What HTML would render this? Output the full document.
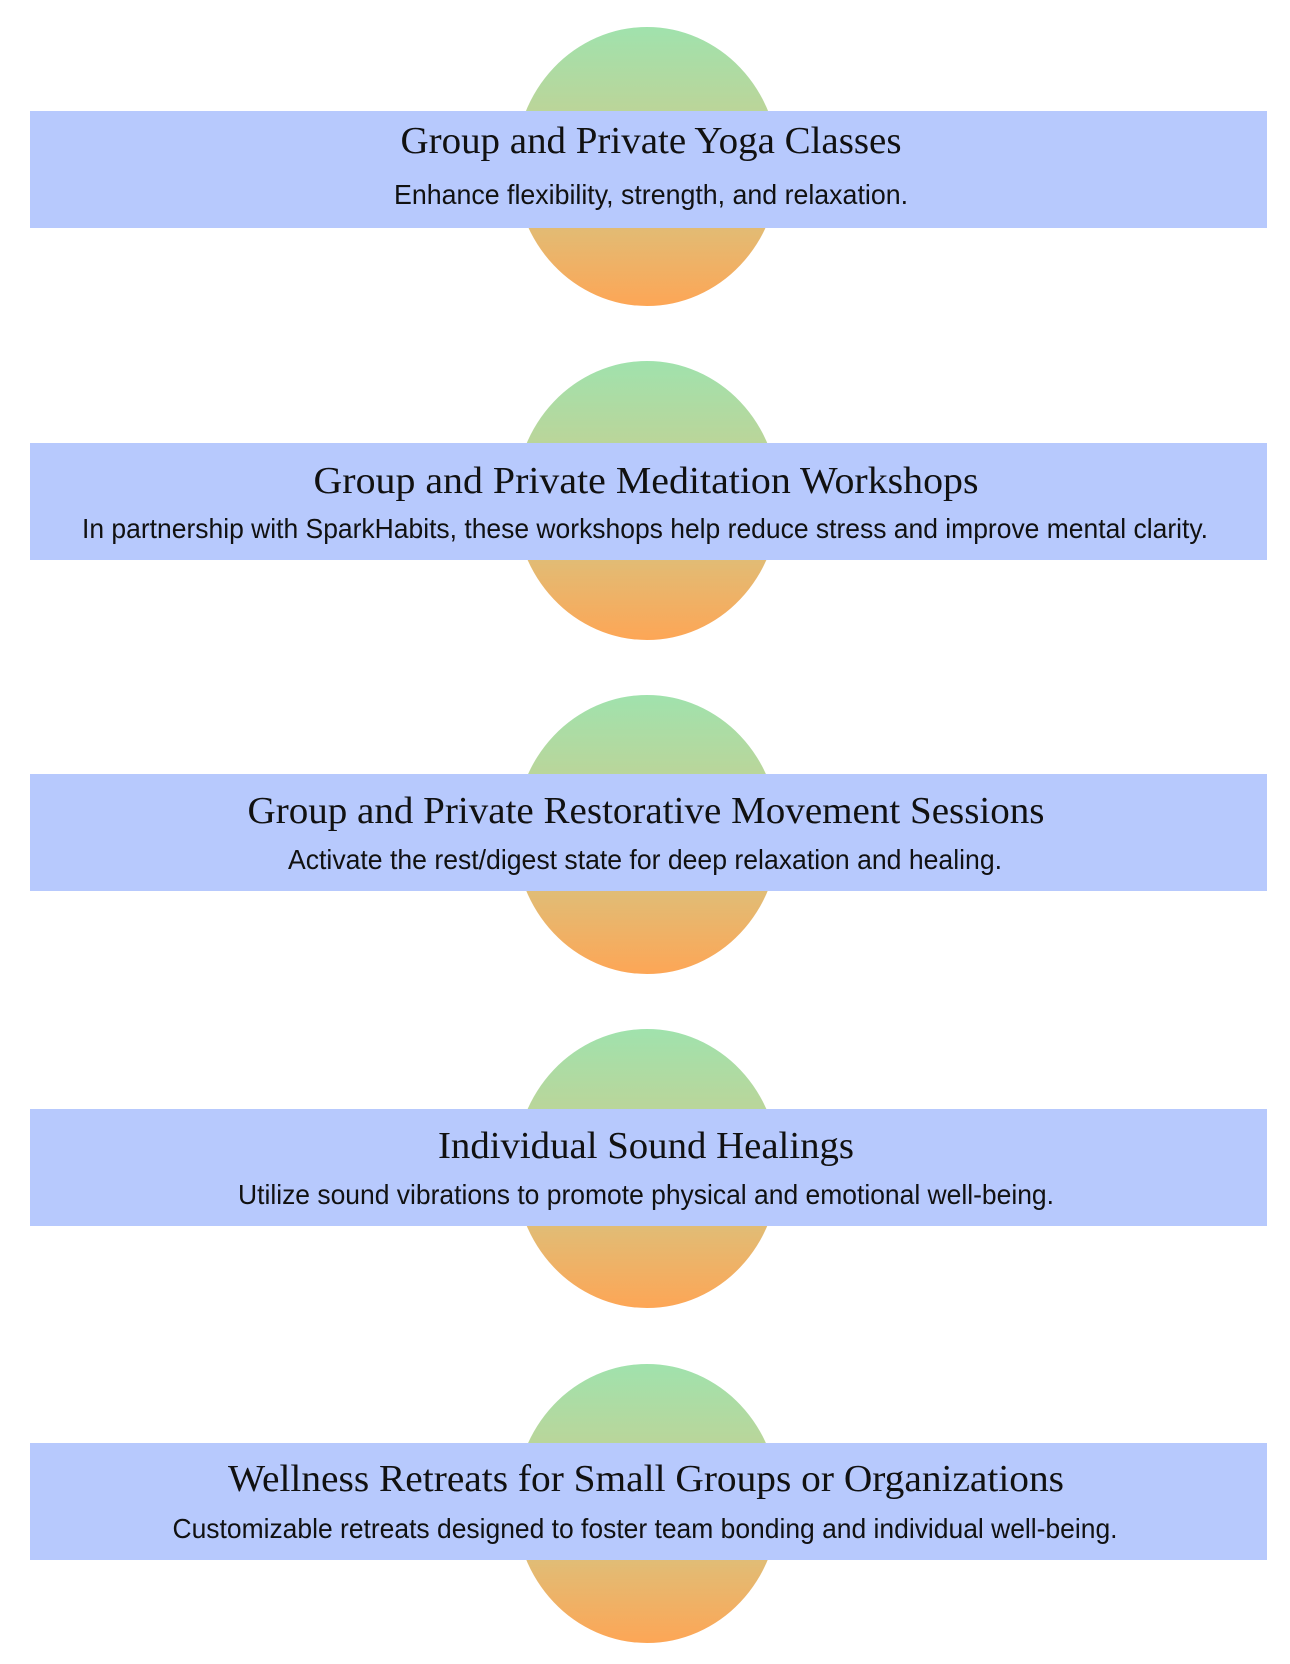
<!DOCTYPE html>
<html><head><meta charset="utf-8"><style>html,body{margin:0;padding:0;background:#fff;}svg{display:block}</style></head>
<body>
<svg width="1290" height="1664" viewBox="0 0 1290 1664" xmlns="http://www.w3.org/2000/svg">
<defs>
<linearGradient id="g" x1="0" y1="0" x2="0" y2="1">
<stop offset="0" stop-color="#a0e2ad"/>
<stop offset="0.5" stop-color="#cdcc8c"/>
<stop offset="1" stop-color="#fda656"/>
</linearGradient>
</defs>
<g font-family="'Liberation Serif', serif" fill="#111">
<ellipse cx="647" cy="166.5" rx="132" ry="139.5" fill="url(#g)"/>
<ellipse cx="647" cy="500.5" rx="132" ry="139.5" fill="url(#g)"/>
<ellipse cx="647" cy="834.5" rx="132" ry="139.5" fill="url(#g)"/>
<ellipse cx="647" cy="1168.5" rx="132" ry="139.5" fill="url(#g)"/>
<ellipse cx="647" cy="1503.5" rx="132" ry="139.5" fill="url(#g)"/>

<g transform="translate(0,0)">
<rect x="30" y="111" width="1237" height="117" fill="#b7c9fd"/>
<text x="651" y="153" font-size="38" text-anchor="middle" textLength="501" lengthAdjust="spacingAndGlyphs">Group and Private Yoga Classes</text>
<text x="651" y="204" font-size="28" font-family="'Liberation Sans', sans-serif" text-anchor="middle" textLength="514" lengthAdjust="spacingAndGlyphs">Enhance flexibility, strength, and relaxation.</text>
</g>
<g transform="translate(0,332)">
<rect x="30" y="111" width="1237" height="117" fill="#b7c9fd"/>
<text x="646" y="161" font-size="38" text-anchor="middle" textLength="665" lengthAdjust="spacingAndGlyphs">Group and Private Meditation Workshops</text>
<text x="645" y="206" font-size="28" font-family="'Liberation Sans', sans-serif" text-anchor="middle" textLength="1126" lengthAdjust="spacingAndGlyphs">In partnership with SparkHabits, these workshops help reduce stress and improve mental clarity.</text>
</g>
<g transform="translate(0,663)">
<rect x="30" y="111" width="1237" height="117" fill="#b7c9fd"/>
<text x="646" y="160" font-size="38" text-anchor="middle" textLength="797" lengthAdjust="spacingAndGlyphs">Group and Private Restorative Movement Sessions</text>
<text x="645" y="206" font-size="28" font-family="'Liberation Sans', sans-serif" text-anchor="middle" textLength="714" lengthAdjust="spacingAndGlyphs">Activate the rest/digest state for deep relaxation and healing.</text>
</g>
<g transform="translate(0,998)">
<rect x="30" y="111" width="1237" height="117" fill="#b7c9fd"/>
<text x="646" y="160" font-size="38" text-anchor="middle" textLength="416" lengthAdjust="spacingAndGlyphs">Individual Sound Healings</text>
<text x="646" y="206" font-size="28" font-family="'Liberation Sans', sans-serif" text-anchor="middle" textLength="816" lengthAdjust="spacingAndGlyphs">Utilize sound vibrations to promote physical and emotional well-being.</text>
</g>
<g transform="translate(0,1332)">
<rect x="30" y="111" width="1237" height="117" fill="#b7c9fd"/>
<text x="646" y="159" font-size="38" text-anchor="middle" textLength="836" lengthAdjust="spacingAndGlyphs">Wellness Retreats for Small Groups or Organizations</text>
<text x="645" y="206" font-size="28" font-family="'Liberation Sans', sans-serif" text-anchor="middle" textLength="945" lengthAdjust="spacingAndGlyphs">Customizable retreats designed to foster team bonding and individual well-being.</text>
</g>
</g>
</svg>
</body></html>
